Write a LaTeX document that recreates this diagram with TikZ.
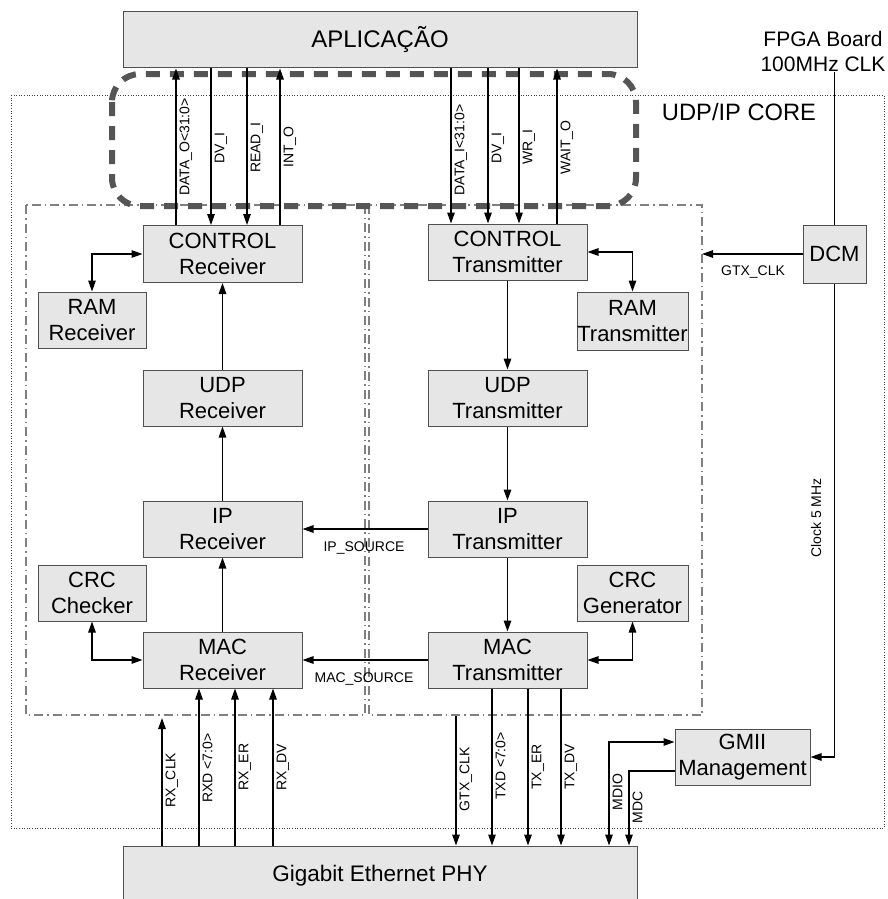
\documentclass[tikz,border=0pt]{standalone}
\usepackage{fontspec}
\setmainfont{Liberation Sans}
\usetikzlibrary{arrows.meta,calc}
\definecolor{boxfill}{HTML}{E6E6E6}
\definecolor{boxline}{HTML}{505050}
\definecolor{thickdash}{HTML}{555555}
\definecolor{ddgray}{HTML}{808080}
\begin{document}
\begin{tikzpicture}[x=1pt,y=-1pt,
  blk/.style={draw=boxline, fill=boxfill, line width=1pt, align=center, inner sep=0pt, font=\fontsize{22}{26}\selectfont},
  sig/.style={line width=1.3pt, -{Triangle[length=11pt,width=7.5pt]}},
  sigb/.style={line width=1.3pt, {Triangle[length=11pt,width=7.5pt]}-{Triangle[length=11pt,width=7.5pt]}},
  plain/.style={line width=1.3pt},
  lbl/.style={font=\fontsize{14}{16}\selectfont, inner sep=1pt},
  vlbl/.style={lbl, rotate=90, anchor=north},
  ddbox/.style={draw=ddgray, line width=1.1pt, dash pattern=on 9pt off 4pt on 1.5pt off 4pt},
]
\useasboundingbox (0,0) rectangle (887,899);
\clip (0,0) rectangle (887,899);

% outer dotted core box
\draw[draw=black!75, line width=0.9pt, dash pattern=on 1pt off 1.6pt] (11,95) rectangle (884,828);
\node[font=\fontsize{23.7}{28}\selectfont] (corelbl) at (739,112) {UDP/IP CORE};

% receiver / transmitter sub-boxes
\draw[ddbox] (26,205) rectangle (365,715);
\draw[ddbox] (369,205) rectangle (702,715);

% application box
\node[blk, minimum width=514, minimum height=56, font=\fontsize{24}{28}\selectfont] (app) at (380,40) {APLICAÇÃO};

% thick dashed rounded interface
\draw[thickdash, line width=6pt, dash pattern=on 14pt off 10pt, rounded corners=28pt] (112,74) rectangle (636,206);

% nodes
\node[blk, minimum width=159, minimum height=57] (ctrlR) at (222.5,254) {CONTROL\\Receiver};
\node[blk, minimum width=108, minimum height=56] (ramR) at (92,320) {RAM\\Receiver};
\node[blk, minimum width=159, minimum height=56] (udpR) at (222.5,398) {UDP\\Receiver};
\node[blk, minimum width=159, minimum height=56] (ipR) at (222.5,529) {IP\\Receiver};
\node[blk, minimum width=108, minimum height=56] (crcR) at (92,593) {CRC\\Checker};
\node[blk, minimum width=159, minimum height=56] (macR) at (222.5,660) {MAC\\Receiver};

\node[blk, minimum width=159, minimum height=56] (ctrlT) at (507.5,252) {CONTROL\\Transmitter};
\node[blk, minimum width=111, minimum height=58] (ramT) at (632.5,321) {RAM\\Transmitter};
\node[blk, minimum width=159, minimum height=56] (udpT) at (507.5,398) {UDP\\Transmitter};
\node[blk, minimum width=159, minimum height=56] (ipT) at (507.5,529) {IP\\Transmitter};
\node[blk, minimum width=111, minimum height=56] (crcT) at (632.5,593) {CRC\\Generator};
\node[blk, minimum width=159, minimum height=56] (macT) at (507.5,660) {MAC\\Transmitter};

\node[blk, minimum width=63, minimum height=58] (dcm) at (834.5,254) {DCM};
\node[blk, minimum width=135, minimum height=56] (gmii) at (742.5,757) {GMII\\Management};
\node[blk, minimum width=514, minimum height=60, font=\fontsize{22.5}{26}\selectfont] (phy) at (380,876) {Gigabit Ethernet PHY};

\node[align=center, inner sep=1pt, font=\fontsize{21}{25}\selectfont] (fpga) at (823,51) {FPGA Board\\100MHz CLK};

% x / y helper coordinates
\coordinate (a1) at (176,0);
\coordinate (a2) at (211,0);
\coordinate (a3) at (247,0);
\coordinate (a4) at (280,0);
\coordinate (b1) at (451,0);
\coordinate (b2) at (488,0);
\coordinate (b3) at (519,0);
\coordinate (b4) at (557,0);
\coordinate (c1) at (162,0);
\coordinate (c2) at (199,0);
\coordinate (c3) at (235,0);
\coordinate (c4) at (273,0);
\coordinate (d1) at (456,0);
\coordinate (d2) at (492,0);
\coordinate (d3) at (528,0);
\coordinate (d4) at (561,0);
\coordinate (mdioX) at (609,0);
\coordinate (mdcX) at (629,0);
\coordinate (mdioY) at (0,742);
\coordinate (mdcY) at (0,771);
\coordinate (rxclkEnd) at (162,718);
\coordinate (gtxStart) at (456,716);
\coordinate (rboxR) at (702,0);

% top interface signals
\draw[sig] (ctrlR.north -| a1) -- (app.south -| a1);
\draw[sig] (app.south -| a2) -- (ctrlR.north -| a2);
\draw[sig] (app.south -| a3) -- (ctrlR.north -| a3);
\draw[sig] (ctrlR.north -| a4) -- (app.south -| a4);
\node[vlbl] at (178.5,147) {DATA\_O<31:0>};
\node[vlbl] at (213.5,148) {DV\_I};
\node[vlbl] at (249.5,147.5) {READ\_I};
\node[vlbl] at (282.5,147) {INT\_O};

\draw[sig] (app.south -| b1) -- (ctrlT.north -| b1);
\draw[sig] (app.south -| b2) -- (ctrlT.north -| b2);
\draw[sig] (app.south -| b3) -- (ctrlT.north -| b3);
\draw[sig] (ctrlT.north -| b4) -- (app.south -| b4);
\node[vlbl] at (453.5,150) {DATA\_I<31:0>};
\node[vlbl] at (490.5,148) {DV\_I};
\node[vlbl] at (521.5,147) {WR\_I};
\node[vlbl] at (559.5,147.5) {WAIT\_O};

% receiver chain
\draw[sigb] (ctrlR.west) -| (ramR.north);
\draw[sig] (udpR) -- (ctrlR);
\draw[sig] (ipR) -- (udpR);
\draw[sig] (macR) -- (ipR);
\draw[sigb] (crcR.south) |- (macR.west);

% transmitter chain
\draw[sigb] (ctrlT.east) -| (ramT.north);
\draw[sig] (ctrlT) -- (udpT);
\draw[sig] (udpT) -- (ipT);
\draw[sig] (ipT) -- (macT);
\draw[sigb] (macT.east) -| (crcT.south);

% cross links
\draw[sig] (ipT.west) -- (ipR.east);
\node[lbl] at (364,548) {IP\_SOURCE};
\draw[sig] (macT.west) -- (macR.east);
\node[lbl] at (364,679) {MAC\_SOURCE};

% clocks
\draw[plain] (fpga.south -| dcm.north) -- (dcm.north);
\draw[sig] (dcm.west) -- (dcm.west -| rboxR);
\node[lbl] at (753,272) {GTX\_CLK};
\draw[sig] (dcm.south) |- (gmii.east);
\node[lbl, rotate=90] at (816,518) {Clock 5 MHz};

% PHY receive signals
\draw[sig] (phy.north -| c1) -- (rxclkEnd);
\draw[sig] (phy.north -| c2) -- (macR.south -| c2);
\draw[sig] (phy.north -| c3) -- (macR.south -| c3);
\draw[sig] (phy.north -| c4) -- (macR.south -| c4);
\node[vlbl] at (164.5,780) {RX\_CLK};
\node[vlbl] at (201.5,768) {RXD <7:0>};
\node[vlbl] at (237.5,767) {RX\_ER};
\node[vlbl] at (275.5,767) {RX\_DV};

% PHY transmit signals
\draw[sig] (gtxStart) -- (phy.north -| d1);
\draw[sig] (macT.south -| d2) -- (phy.north -| d2);
\draw[sig] (macT.south -| d3) -- (phy.north -| d3);
\draw[sig] (macT.south -| d4) -- (phy.north -| d4);
\node[vlbl] at (458.5,779.5) {GTX\_CLK};
\node[vlbl] at (494.5,766) {TXD <7:0>};
\node[vlbl] at (530.5,767) {TX\_ER};
\node[vlbl] at (563.5,767) {TX\_DV};

% management
\draw[sigb] (gmii.west |- mdioY) -| (phy.north -| mdioX);
\draw[sig] (gmii.west |- mdcY) -| (phy.north -| mdcX);
\node[vlbl] at (611.5,792) {MDIO};
\node[vlbl] at (631.5,807.5) {MDC};

\end{tikzpicture}
\end{document}
